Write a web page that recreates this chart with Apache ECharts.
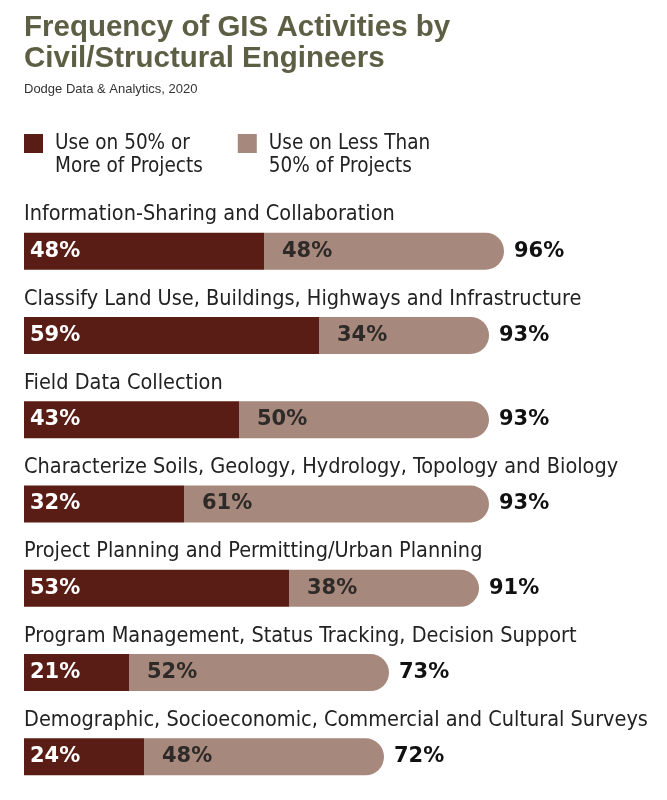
<!DOCTYPE html>
<html><head><meta charset="utf-8">
<script src="https://cdn.jsdelivr.net/npm/echarts@6/dist/echarts.min.js"></script>
<style>html,body{margin:0;padding:0;background:#fff}#c{width:667px;height:800px}</style>
</head><body><div id="c"></div>
<script>
var categories = [
  "Information-Sharing and Collaboration",
  "Classify Land Use, Buildings, Highways and Infrastructure",
  "Field Data Collection",
  "Characterize Soils, Geology, Hydrology, Topology and Biology",
  "Project Planning and Permitting/Urban Planning",
  "Program Management, Status Tracking, Decision Support",
  "Demographic, Socioeconomic, Commercial and Cultural Surveys"
];
var seriesNames = ["Use on 50% or\nMore of Projects", "Use on Less Than\n50% of Projects"];
var majority = [48, 59, 43, 32, 53, 21, 24];
var minority = [48, 34, 50, 61, 38, 52, 48];
var totals = [96, 93, 93, 93, 91, 73, 72];

var catFont = "DejaVu Sans Condensed";
var numFont = "DejaVu Sans";
var chart = echarts.init(document.getElementById('c'));
chart.setOption({
  animation: false,
  title: {
    text: "Frequency of GIS Activities by\nCivil/Structural Engineers",
    subtext: "Dodge Data & Analytics, 2020",
    left: 24, top: 12, padding: 0, itemGap: 9,
    textStyle: {fontFamily: "Liberation Sans", fontWeight: "bold", fontSize: 29.5, lineHeight: 31, color: "#5d5f45"},
    subtextStyle: {fontFamily: "Liberation Sans", fontSize: 13, color: "#333"}
  },
  legend: {
    data: seriesNames,
    formatter: function (n) { return "\n" + n; },
    left: 24, top: 109, padding: 0,
    itemWidth: 19, itemHeight: 19, itemGap: 35,
    icon: "rect",
    selectedMode: false,
    textStyle: {fontFamily: catFont, fontSize: 20.5, lineHeight: 23, color: "#222", padding: [0, 0, 0, 7]}
  },
  grid: {left: 24, width: 500, top: 209, height: 590},
  xAxis: {type: "value", min: 0, max: 100, show: false},
  yAxis: {
    type: "category", data: categories, inverse: true,
    axisLine: {show: false}, axisTick: {show: false},
    axisLabel: {inside: true, margin: 0, align: "left", verticalAlign: "bottom",
      fontFamily: catFont, fontSize: 21.5, lineHeight: 23, color: "#222", padding: [0, 0, 25, 0]}
  },
  series: [
    {
      name: seriesNames[0], type: "bar", stack: "a", barWidth: 37, data: majority,
      itemStyle: {color: "#5a1d15"},
      label: {show: true, position: "insideLeft", distance: 6, formatter: "{c}%",
        fontFamily: numFont, fontWeight: "bold", fontSize: 21, color: "#fff"}
    },
    {
      name: seriesNames[1], type: "bar", stack: "a", barWidth: 37, data: minority,
      itemStyle: {color: "#a6887c", borderRadius: [0, 19, 19, 0]},
      label: {show: true, position: "insideLeft", distance: 18, formatter: "{c}%",
        fontFamily: numFont, fontWeight: "bold", fontSize: 21, color: "#2e2a28"}
    },
    {
      name: "Total", type: "bar", barWidth: 37, barGap: "-100%", data: totals, silent: true, z: 1,
      itemStyle: {color: "rgba(0,0,0,0)"},
      label: {show: true, position: "right", distance: 10, formatter: "{c}%",
        fontFamily: numFont, fontWeight: "bold", fontSize: 21, color: "#111"}
    }
  ]
});
</script></body></html>
